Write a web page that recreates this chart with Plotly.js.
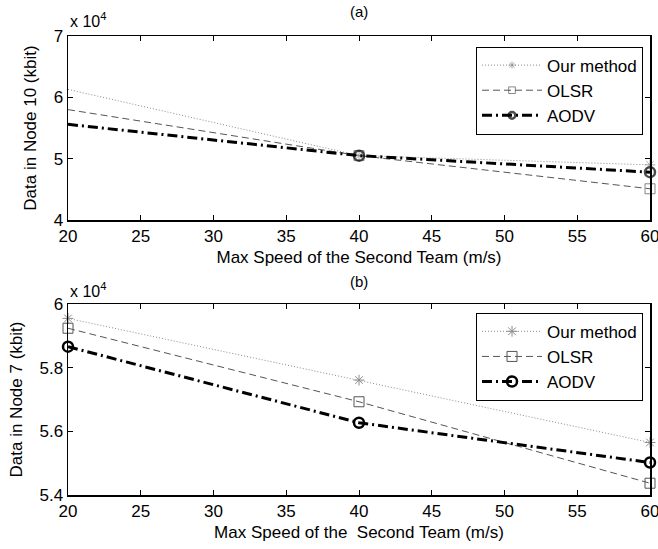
<!DOCTYPE html>
<html>
<head>
<meta charset="utf-8">
<script src="https://cdn.plot.ly/plotly-3.0.1.min.js"></script>
<style>html,body{margin:0;padding:0;background:#fff;}#chart{width:658px;height:549px;}</style>
</head>
<body>
<div id="chart"></div>
<script>
// Data (values in units of 10^4 kbit)
const speeds = [20, 40, 60];
const seriesNames = ['Our method', 'OLSR', 'AODV'];
// (a) Data in Node 10
const node10_our  = [6.13, 5.05, 4.90];
const node10_olsr = [5.80, 5.05, 4.51];
const node10_aodv = [5.56, 5.05, 4.78];
// (b) Data in Node 7
const node7_our  = [5.955, 5.761, 5.565];
const node7_olsr = [5.924, 5.693, 5.437];
const node7_aodv = [5.866, 5.627, 5.502];
const xTicks = [20, 25, 30, 35, 40, 45, 50, 55, 60];
const yTicksA = [4, 5, 6, 7];
const yTicksB = [5.4, 5.6, 5.8, 6];
const yTickTextB = ['5.4', '5.6', '5.8', '6'];

const FONT = 'Liberation Sans, Arial, sans-serif';

const styles = [
  {line: {color: '#8a8a8a', width: 1, dash: '1px,2px'}, marker: {symbol: 'asterisk-open', size: 9, color: '#8a8a8a', line: {color: '#8a8a8a', width: 1}}},
  {line: {color: '#555555', width: 1, dash: '7px,4px'}, marker: {symbol: 'square-open', size: 10, color: '#555555', line: {color: '#555555', width: 1}}},
  {line: {color: '#000000', width: 3, dash: '10px,4px,2px,4px'}, marker: {symbol: 'circle-open', size: 10, color: '#000000', line: {color: '#000000', width: 2.5}}}
];

function mk(y, i, xa, ya, leg, sizes) {
  const s = styles[i];
  const m = Object.assign({}, s.marker);
  if (sizes) m.size = sizes;
  return {
    x: speeds, y: y, name: seriesNames[i], type: 'scatter', mode: 'lines+markers',
    xaxis: xa, yaxis: ya, legend: leg, line: s.line, marker: m, cliponaxis: false
  };
}

const topSizes = [0, 10, 10];
const data = [
  mk(node10_our, 0, 'x', 'y', 'legend', [0, 9, 9]),
  mk(node10_olsr, 1, 'x', 'y', 'legend', topSizes),
  mk(node10_aodv, 2, 'x', 'y', 'legend', topSizes),
  mk(node7_our, 0, 'x2', 'y2', 'legend2'),
  mk(node7_olsr, 1, 'x2', 'y2', 'legend2'),
  mk(node7_aodv, 2, 'x2', 'y2', 'legend2')
];

const axCommon = {
  showgrid: false, zeroline: false, showline: true, linecolor: '#000', linewidth: 1.5,
  mirror: 'ticks', ticks: 'inside', ticklen: 5, tickwidth: 1, tickcolor: '#000',
  ticklabeloverflow: 'allow',
  tickfont: {family: FONT, size: 17, color: '#000'}
};

function xax(anchor, titleText, standoffLbl) {
  return Object.assign({}, axCommon, {
    domain: [0, 1], anchor: anchor, range: [20, 60], tickvals: xTicks,
    ticklabelstandoff: standoffLbl,
    title: {text: titleText, font: {family: FONT, size: 17, color: '#000'}, standoff: 6}
  });
}

const legendCommon = {
  bgcolor: '#fff', bordercolor: '#000', borderwidth: 1,
  font: {family: FONT, size: 17, color: '#000'},
  xanchor: 'right', yanchor: 'top', itemwidth: 60
};

const layout = {
  width: 658, height: 549,
  margin: {l: 68, r: 8, t: 36, b: 54},
  paper_bgcolor: '#fff', plot_bgcolor: '#fff',
  font: {family: FONT, color: '#000'},
  xaxis: xax('y', 'Max Speed of the Second Team (m/s)', 0),
  yaxis: Object.assign({}, axCommon, {
    domain: [0.599, 1], anchor: 'x', range: [4, 7], tickvals: yTicksA,
    title: {text: 'Data in Node 10 (kbit)', font: {family: FONT, size: 17, color: '#000'}, standoff: 12}
  }),
  xaxis2: xax('y2', 'Max Speed of the&nbsp; Second Team (m/s)', 0),
  yaxis2: Object.assign({}, axCommon, {
    domain: [0, 0.416], anchor: 'x2', range: [5.4, 6], tickvals: yTicksB, ticktext: yTickTextB,
    title: {text: 'Data in Node 7 (kbit)', font: {family: FONT, size: 17, color: '#000'}, standoff: 12}
  }),
  legend: Object.assign({}, legendCommon, {x: 0.988, y: 0.977}),
  legend2: Object.assign({}, legendCommon, {x: 0.988, y: 0.397}),
  showlegend: true,
  annotations: [
    {text: '(a)', xref: 'x domain', yref: 'y domain', x: 0.5, y: 1, yshift: 14, xanchor: 'center', yanchor: 'bottom', showarrow: false, font: {family: FONT, size: 15, color: '#000'}},
    {text: '(b)', xref: 'x2 domain', yref: 'y2 domain', x: 0.5, y: 1, yshift: 12, xanchor: 'center', yanchor: 'bottom', showarrow: false, font: {family: FONT, size: 15, color: '#000'}},
    {text: 'x 10<sup>4</sup>', xref: 'x domain', yref: 'y domain', x: 0, y: 1, yshift: 4, xanchor: 'left', yanchor: 'bottom', showarrow: false, font: {family: FONT, size: 16, color: '#000'}},
    {text: 'x 10<sup>4</sup>', xref: 'x2 domain', yref: 'y2 domain', x: 0, y: 1, yshift: 2, xanchor: 'left', yanchor: 'bottom', showarrow: false, font: {family: FONT, size: 16, color: '#000'}}
  ]
};

Plotly.newPlot('chart', data, layout, {displayModeBar: false, staticPlot: true});
</script>
</body>
</html>
